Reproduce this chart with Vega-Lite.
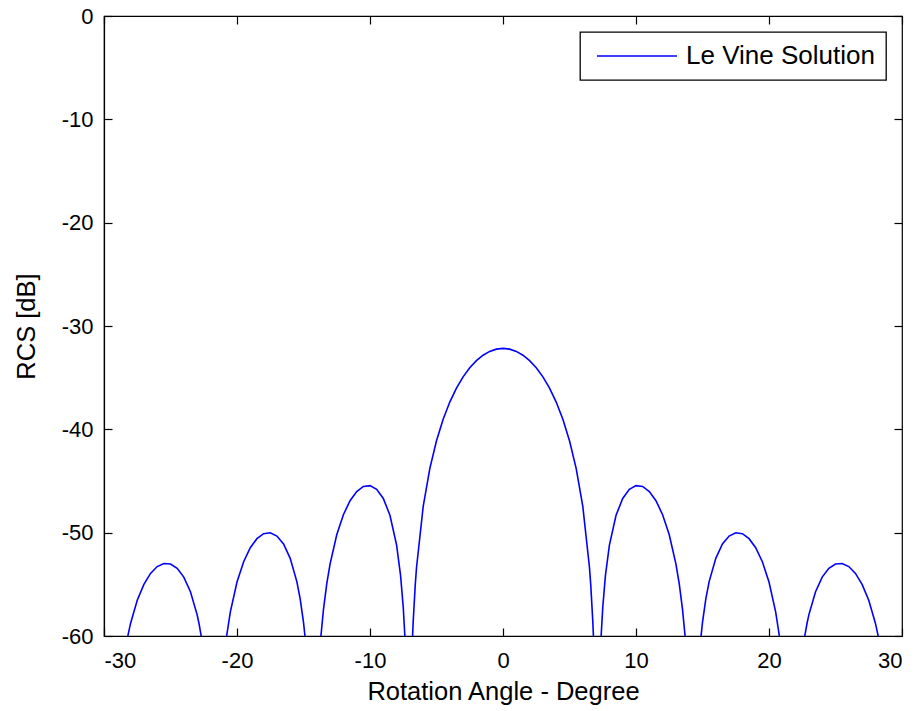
{
  "$schema": "https://vega.github.io/schema/vega-lite/v6.json",
  "autosize": "none",
  "width": 798,
  "height": 620,
  "padding": {"left": 104, "top": 16, "right": 20, "bottom": 75},
  "background": "white",
  "data": {
    "values": [
      {"a": -30, "r": -69}, {"a": -29.53, "r": -80}, {"a": -28.21, "r": -60.0}, {"a": -28, "r": -58.76},
      {"a": -27.5, "r": -56.54}, {"a": -27, "r": -55.0}, {"a": -26.5, "r": -53.94}, {"a": -26, "r": -53.28},
      {"a": -25.5, "r": -52.98}, {"a": -25, "r": -53.03}, {"a": -24.5, "r": -53.45}, {"a": -24, "r": -54.3},
      {"a": -23.5, "r": -55.71}, {"a": -23, "r": -57.93}, {"a": -22.85, "r": -58.84}, {"a": -22.69, "r": -60.0},
      {"a": -21.69, "r": -80}, {"a": -20.78, "r": -60.0}, {"a": -20.5, "r": -57.66}, {"a": -20, "r": -54.77},
      {"a": -19.5, "r": -52.81}, {"a": -19, "r": -51.46}, {"a": -18.5, "r": -50.58}, {"a": -18, "r": -50.1},
      {"a": -17.5, "r": -50.01}, {"a": -17, "r": -50.33}, {"a": -16.5, "r": -51.1}, {"a": -16, "r": -52.48},
      {"a": -15.5, "r": -54.74}, {"a": -15.25, "r": -56.41}, {"a": -15, "r": -58.69}, {"a": -14.89, "r": -60.0},
      {"a": -14.26, "r": -80}, {"a": -13.7, "r": -60.14}, {"a": -13.5, "r": -57.45}, {"a": -13.25, "r": -54.94},
      {"a": -13, "r": -53.02}, {"a": -12.5, "r": -50.21}, {"a": -12, "r": -48.26}, {"a": -11.5, "r": -46.91},
      {"a": -11, "r": -46.02}, {"a": -10.5, "r": -45.53}, {"a": -10, "r": -45.45}, {"a": -9.5, "r": -45.81},
      {"a": -9, "r": -46.69}, {"a": -8.5, "r": -48.32}, {"a": -8, "r": -51.21}, {"a": -7.7, "r": -54.16},
      {"a": -7.5, "r": -57.24}, {"a": -7.38, "r": -59.97}, {"a": -7.08, "r": -80}, {"a": -6.8, "r": -60.04},
      {"a": -6.75, "r": -58.54}, {"a": -6.6, "r": -55.1}, {"a": -6.5, "r": -53.35}, {"a": -6, "r": -47.46},
      {"a": -5.5, "r": -43.78}, {"a": -5, "r": -41.1}, {"a": -4.5, "r": -39.02}, {"a": -4, "r": -37.36},
      {"a": -3.5, "r": -36.02}, {"a": -3, "r": -34.92}, {"a": -2.5, "r": -34.04}, {"a": -2, "r": -33.35},
      {"a": -1.5, "r": -32.83}, {"a": -1, "r": -32.46}, {"a": -0.5, "r": -32.24}, {"a": 0, "r": -32.17},
      {"a": 0.5, "r": -32.24}, {"a": 1, "r": -32.46}, {"a": 1.5, "r": -32.83}, {"a": 2, "r": -33.35},
      {"a": 2.5, "r": -34.04}, {"a": 3, "r": -34.92}, {"a": 3.5, "r": -36.02}, {"a": 4, "r": -37.36},
      {"a": 4.5, "r": -39.02}, {"a": 5, "r": -41.1}, {"a": 5.5, "r": -43.78}, {"a": 6, "r": -47.46},
      {"a": 6.5, "r": -53.35}, {"a": 6.6, "r": -55.1}, {"a": 6.75, "r": -58.54}, {"a": 6.8, "r": -60.04},
      {"a": 7.08, "r": -80}, {"a": 7.38, "r": -59.97}, {"a": 7.5, "r": -57.24}, {"a": 7.7, "r": -54.16},
      {"a": 8, "r": -51.21}, {"a": 8.5, "r": -48.32}, {"a": 9, "r": -46.69}, {"a": 9.5, "r": -45.81},
      {"a": 10, "r": -45.45}, {"a": 10.5, "r": -45.53}, {"a": 11, "r": -46.02}, {"a": 11.5, "r": -46.91},
      {"a": 12, "r": -48.26}, {"a": 12.5, "r": -50.21}, {"a": 13, "r": -53.02}, {"a": 13.25, "r": -54.94},
      {"a": 13.5, "r": -57.45}, {"a": 13.7, "r": -60.14}, {"a": 14.26, "r": -80}, {"a": 14.89, "r": -60.0},
      {"a": 15, "r": -58.69}, {"a": 15.25, "r": -56.41}, {"a": 15.5, "r": -54.74}, {"a": 16, "r": -52.48},
      {"a": 16.5, "r": -51.1}, {"a": 17, "r": -50.33}, {"a": 17.5, "r": -50.01}, {"a": 18, "r": -50.1},
      {"a": 18.5, "r": -50.58}, {"a": 19, "r": -51.46}, {"a": 19.5, "r": -52.81}, {"a": 20, "r": -54.77},
      {"a": 20.5, "r": -57.66}, {"a": 20.78, "r": -60.0}, {"a": 21.69, "r": -80}, {"a": 22.69, "r": -60.0},
      {"a": 22.85, "r": -58.84}, {"a": 23, "r": -57.93}, {"a": 23.5, "r": -55.71}, {"a": 24, "r": -54.3},
      {"a": 24.5, "r": -53.45}, {"a": 25, "r": -53.03}, {"a": 25.5, "r": -52.98}, {"a": 26, "r": -53.28},
      {"a": 26.5, "r": -53.94}, {"a": 27, "r": -55.0}, {"a": 27.5, "r": -56.54}, {"a": 28, "r": -58.76},
      {"a": 28.21, "r": -60.0}, {"a": 29.53, "r": -80}, {"a": 30, "r": -69}
    ]
  },
  "layer": [
    {
      "mark": {"type": "line", "clip": true, "strokeWidth": 1.6, "interpolate": "linear"},
      "encoding": {
        "x": {
          "field": "a", "type": "quantitative",
          "scale": {"domain": [-30, 30], "nice": false, "zero": false},
          "axis": {
            "orient": "bottom", "title": "Rotation Angle - Degree",
            "values": [-30, -20, -10, 0, 10, 20, 30],
            "labelExpr": "'' + datum.value",
            "tickSize": -8, "labelPadding": 22, "titlePadding": 8
          }
        },
        "y": {
          "field": "r", "type": "quantitative",
          "scale": {"domain": [-60, 0], "nice": false, "zero": false},
          "axis": {
            "orient": "left", "title": "RCS [dB]",
            "values": [-60, -50, -40, -30, -20, -10, 0],
            "labelExpr": "'' + datum.value",
            "tickSize": -8, "labelPadding": 19, "titlePadding": 22
          }
        },
        "color": {
          "datum": "Le Vine Solution",
          "type": "nominal",
          "scale": {"range": ["#0000ff"]},
          "legend": {
            "title": null,
            "orient": "top-right",
            "offset": 16,
            "symbolType": "stroke",
            "symbolSize": 6400,
            "symbolStrokeWidth": 1.6,
            "symbolOffset": 5,
            "labelOffset": 8,
            "labelFontSize": 26,
            "labelFont": "Liberation Sans",
            "labelColor": "#000000",
            "labelLimit": 400,
            "padding": 11,
            "strokeColor": "#000000",
            "fillColor": "#ffffff",
            "clipHeight": 26
          }
        }
      }
    },
    {
      "mark": {"type": "point", "opacity": 0, "clip": true},
      "encoding": {
        "x": {
          "field": "a", "type": "quantitative",
          "scale": {"domain": [-30, 30], "nice": false, "zero": false},
          "axis": {"orient": "top", "title": null, "labels": false, "domain": false,
                   "values": [-30, -20, -10, 0, 10, 20, 30], "tickSize": -8}
        },
        "y": {
          "field": "r", "type": "quantitative",
          "scale": {"domain": [-60, 0], "nice": false, "zero": false},
          "axis": {"orient": "right", "title": null, "labels": false, "domain": false,
                   "values": [-60, -50, -40, -30, -20, -10, 0], "tickSize": -8}
        }
      }
    }
  ],
  "resolve": {"axis": {"x": "independent", "y": "independent"}},
  "config": {
    "view": {"stroke": "#000000", "strokeWidth": 1.2},
    "axis": {
      "grid": false,
      "domainColor": "#000000",
      "domainWidth": 1.2,
      "tickColor": "#000000",
      "tickWidth": 1.2,
      "labelFont": "Liberation Sans",
      "labelFontSize": 22,
      "labelColor": "#000000",
      "titleFont": "Liberation Sans",
      "titleFontSize": 25.5,
      "titleFontWeight": "normal",
      "titleColor": "#000000"
    },
    "legend": {"strokeWidth": 1.3}
  }
}
